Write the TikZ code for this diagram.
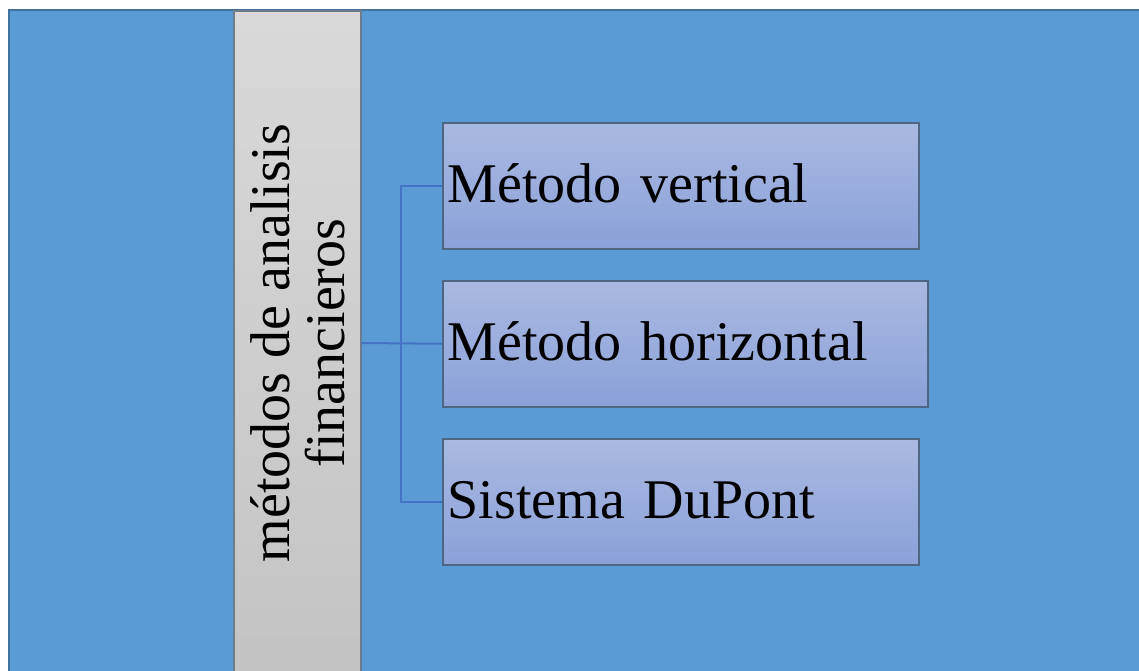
\documentclass[tikz,border=0pt]{standalone}
\usepackage{fontspec}
\setmainfont{LiberationSerif}[Extension=.ttf,UprightFont=*-Regular,BoldFont=*-Bold]
\begin{document}
\begin{tikzpicture}[x=1pt,y=-1pt,
  outerbg/.style={draw=borderblue,line width=2pt,fill=bgblue},
  bandbox/.style={draw=bandedge,line width=1.5pt,top color=bandtop,bottom color=bandbot,
    inner sep=0pt,minimum width=127pt,minimum height=670pt},
  itembox/.style={draw=boxedge,line width=1.5pt,top color=boxtop,bottom color=boxbot,
    minimum height=126pt,inner xsep=5pt,align=left,text height=40pt,text depth=6pt,
    font=\fontsize{56}{55}\selectfont},
  conn/.style={draw=connblue,line width=2pt}]
\definecolor{bgblue}{HTML}{5B9BD5}
\definecolor{borderblue}{HTML}{41719C}
\definecolor{bandtop}{HTML}{D9D9D9}
\definecolor{bandbot}{HTML}{C3C3C3}
\definecolor{bandedge}{HTML}{6F7B88}
\definecolor{boxtop}{HTML}{AAB9E2}
\definecolor{boxbot}{HTML}{8AA1D8}
\definecolor{boxedge}{HTML}{4F6584}
\definecolor{connblue}{HTML}{4472C4}
\useasboundingbox (0,0) rectangle (1139,670);
\fill[white] (0,0) rectangle (1139,670);
\begin{scope}
\clip (0,0) rectangle (1139,670);
\draw[outerbg] (9,10) rectangle (1160,700);
\node[bandbox,anchor=north west] (band) at (233,10) {};
\node[rotate=90,align=center,font=\fontsize{56}{55}\selectfont] (title) at (298,343)
  {métodos de analisis\\financieros};
\end{scope}
\node[itembox,anchor=north west,text width=466pt] (b1) at (442,122) {Método vertical};
\node[itembox,anchor=north west,text width=475pt] (b2) at (442,280) {Método horizontal};
\node[itembox,anchor=north west,text width=466pt] (b3) at (442,438) {Sistema DuPont};
\coordinate (j) at (401,343);
\draw[conn] (b1.west) -| (j) |- (b3.west);
\draw[conn] (band.east |- j) -- (b2.west);
\end{tikzpicture}
\end{document}
